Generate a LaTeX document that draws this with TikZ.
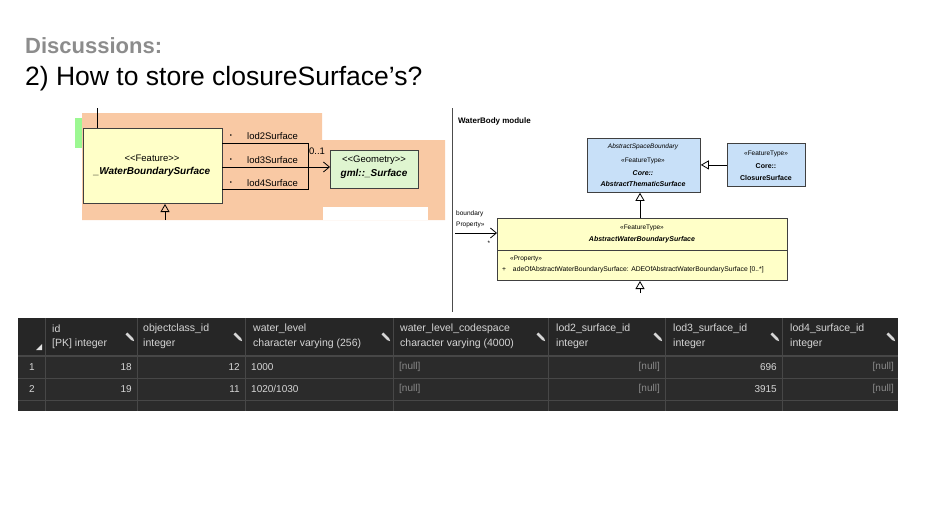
\documentclass[tikz,border=0pt]{standalone}
\usepackage{fontspec}
\setmainfont{Liberation Sans}
\usetikzlibrary{arrows.meta}
\definecolor{org}{HTML}{F9C9A4}
\definecolor{yel}{HTML}{FFFFC8}
\definecolor{blu}{HTML}{C8E0F8}
\definecolor{grn}{HTML}{DFF5D0}
\definecolor{tbg}{HTML}{2B2B2B}
\definecolor{tln}{HTML}{474747}
\definecolor{ttx}{HTML}{D6D6D6}
\definecolor{tnl}{HTML}{8A8A8A}
\tikzset{
 cls/.style={draw=black!75, line width=0.8pt},
 sm/.style={font=\fontsize{9.5}{11}\selectfont, inner sep=0},
 tiny/.style={font=\fontsize{6.5}{7}\selectfont, inner sep=0},
 tb/.style={font=\bfseries\itshape\fontsize{7}{8}\selectfont, inner sep=0},
 th/.style={font=\fontsize{10.5}{12}\selectfont, text=ttx, anchor=west, inner sep=0},
 td/.style={font=\fontsize{10}{12}\selectfont, text=ttx, inner sep=0},
 nl/.style={td, text=tnl},
 inh/.style={-{Triangle[open,length=8pt,width=9pt]}, line width=0.8pt},
 opn/.style={-{Straight Barb[length=6pt,width=10pt]}, line width=0.8pt},
}
\begin{document}
\begin{tikzpicture}[x=1pt,y=-1pt]
\useasboundingbox (0,0) rectangle (943,530);
\node[anchor=west, font=\bfseries\fontsize{22}{24}\selectfont, text=black!45, inner sep=0] (t1) at (25,46) {Discussions:};
\node[anchor=west, font=\fontsize{26.5}{28}\selectfont, inner sep=0] (t2) at (25,79) {2) How to store closureSurface’s?};
% left UML
\fill[org] (82,113) -- (322,113) -- (322,140) -- (445,140) -- (445,220) -- (82,220) -- cycle;
\fill[white] (323,207) rectangle (428,220);
\fill[grn!70!green] (75,118) rectangle (82,148);
\draw[line width=0.8pt] (97,128) -- (97,108);
\node[cls, fill=yel, minimum width=139, minimum height=75, anchor=north west, inner sep=0] (wbs) at (83,128) {};
\node[sm] (wbs1) at (152,158) {{<}{<}Feature{>}{>}};
\node[sm, font=\bfseries\itshape\fontsize{10}{11}\selectfont] (wbs2) at (152,172) {\_WaterBoundarySurface};
\node[cls, fill=grn, minimum width=88, minimum height=38, anchor=north west, inner sep=0] (geo) at (330,150) {};
\node[sm] (geo1) at (374,160) {{<}{<}Geometry{>}{>}};
\node[sm, font=\bfseries\itshape\fontsize{10}{11}\selectfont] (geo2) at (374,174) {gml::\_Surface};
\foreach \y/\t in {136/lod2Surface,160/lod3Surface,183/lod4Surface}{
 \node[sm, font=\fontsize{6}{7}\selectfont] at (231,\y) {\textbullet};
 \node[sm, anchor=west] at (247,\y) {\t};}
\coordinate (c2) at (308,143);
\coordinate (c4) at (308,189);
\draw[line width=0.8pt] (222,143) -- (c2) -- (c4) -- (222,189);
\draw[opn] (222,167) -- (geo.west |- 0,167);
\node[sm] (mult) at (317,151) {0..1};
\coordinate (lt) at (165,220);
\draw[inh] (lt) -- (165,204);
% divider
\draw[line width=0.8pt, black!70] (452,108) -- (452,312);
% right UML
\node[sm, anchor=west, font=\bfseries\fontsize{8}{9}\selectfont] (wm) at (458,121) {WaterBody module};
\node[cls, fill=blu, minimum width=113, minimum height=54, anchor=north west, inner sep=0] (ats) at (587,138) {};
\node[tiny, font=\itshape\fontsize{6.5}{7}\selectfont] at (643,147) {AbstractSpaceBoundary};
\node[tiny] at (643,161) {«FeatureType»};
\node[tb] at (643,173) {Core::};
\node[tb] at (643,184) {AbstractThematicSurface};
\node[cls, fill=blu, minimum width=78, minimum height=43, anchor=north west, inner sep=0] (cs) at (727,143) {};
\node[tiny] at (766,154) {«FeatureType»};
\node[tb, font=\bfseries\fontsize{7}{8}\selectfont] at (766,166) {Core::};
\node[tb, font=\bfseries\fontsize{7}{8}\selectfont] at (766,178) {ClosureSurface};
\draw[inh] (cs.west) -- (ats.east |- cs.west);
\node[cls, fill=yel, minimum width=290, minimum height=62, anchor=north west, inner sep=0] (awbs) at (497,218) {};
\draw[line width=0.8pt, black!75] (497,250) -- (787,250);
\node[tiny] at (642,228) {«FeatureType»};
\node[tb] at (642,240) {AbstractWaterBoundarySurface};
\node[tiny, anchor=west] at (510,259) {«Property»};
\node[tiny, anchor=west, font=\fontsize{6.8}{7}\selectfont] at (502,270) {+\quad adeOfAbstractWaterBoundarySurface: ADEOfAbstractWaterBoundarySurface [0..*]};
\draw[inh] (awbs.north -| 640,0) -- (ats.south -| 640,0);
\coordinate (rt) at (640,293);
\draw[inh] (rt) -- (640,281);
\coordinate (bp) at (455,233);
\draw[opn] (bp) -- (awbs.west |- bp);
\node[tiny, anchor=west] at (456,214) {boundary};
\node[tiny, anchor=west] at (456,225) {Property»};
\node[tiny] at (489,243) {*};
% table
\fill[tbg] (18,318) rectangle (898,411);
\fill[black!85!white] (18,318) rectangle (898,356);
\foreach \x in {45,137,245,393,548,665,782}{\draw[tln, line width=0.8pt] (\x,318) -- (\x,411);}
\foreach \y in {356,378,400}{\draw[tln, line width=0.8pt] (18,\y) -- (898,\y);}
\draw[tln, line width=1.5pt] (18,356) -- (898,356);
\fill[ttx!70] (36,350) -- (42,344) -- (42,350) -- cycle;
\foreach \x/\a/\b/\p in {52/id/{[PK] integer}/130,143/objectclass\_id/integer/238,253/water\_level/character varying (256)/386,400/water\_level\_codespace/character varying (4000)/541,556/lod2\_surface\_id/integer/658,673/lod3\_surface\_id/integer/775,790/lod4\_surface\_id/integer/891}{
 \node[th] at (\x,329) {\a};
 \node[th] at (\x,344) {\b};
 \fill[ttx, shift={(\p,337)}, rotate=45] (-1.3,-5) rectangle (1.3,3) (-1.3,3) -- (1.3,3) -- (0,6) -- cycle;}
\node[td] at (32,367) {1};
\node[td] at (32,389) {2};
\node[td, anchor=east] at (132,367) {18};
\node[td, anchor=east] at (132,389) {19};
\node[td, anchor=east] at (240,367) {12};
\node[td, anchor=east] at (240,389) {11};
\node[td, anchor=west] at (251,367) {1000};
\node[td, anchor=west] at (251,389) {1020/1030};
\foreach \y in {367,389}{
 \node[nl, anchor=west] at (399,\y) {[null]};
 \node[nl, anchor=east] at (660,\y) {[null]};
 \node[nl, anchor=east] at (894,\y) {[null]};}
\node[td, anchor=east] at (777,367) {696};
\node[td, anchor=east] at (777,389) {3915};
\end{tikzpicture}
\end{document}
